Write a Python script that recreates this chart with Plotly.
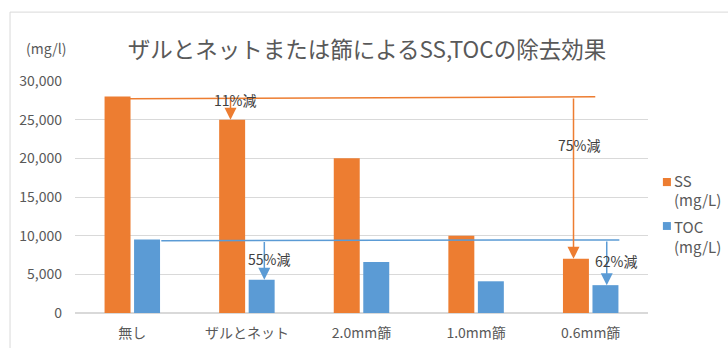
import plotly.graph_objects as go

categories = ["無し", "ザルとネット", "2.0mm篩", "1.0mm篩", "0.6mm篩"]
ss_values = [28000, 25000, 20000, 10000, 7000]
toc_values = [9500, 4300, 6600, 4100, 3600]
series_names = ["SS", "TOC"]
unit_label = "(mg/L)"
reduction_labels = ["11%減", "75%減", "55%減", "62%減"]

ORANGE = "#ED7D31"
BLUE = "#5B9BD5"
GREY = "#595959"
FONT = "Noto Sans CJK JP"

fig = go.Figure()
fig.add_trace(go.Bar(x=categories, y=ss_values, name=series_names[0] + " " + unit_label,
                     marker=dict(color=ORANGE, line=dict(width=0))))
fig.add_trace(go.Bar(x=categories, y=toc_values, name=series_names[1] + " " + unit_label,
                     marker=dict(color=BLUE, line=dict(width=0))))

# reference lines
fig.add_shape(type="line", xref="x", yref="y", x0=-0.027, y0=27700, x1=4.04, y1=27950,
              line=dict(color=ORANGE, width=1.5))
fig.add_shape(type="line", xref="x", yref="y", x0=0.253, y0=9350, x1=4.25, y1=9450,
              line=dict(color=BLUE, width=1.5))

def arrow(x, y_from, y_to, color):
    fig.add_annotation(x=x, y=y_to, ax=x, ay=y_from, xref="x", yref="y",
                       axref="x", ayref="y", text="", showarrow=True,
                       arrowhead=2, arrowsize=1.6, arrowwidth=1.5, arrowcolor=color,
                       standoff=0, startstandoff=0)

arrow(0.857, 27760, ss_values[1], ORANGE)
arrow(3.85, 27930, ss_values[4], ORANGE)
arrow(1.152, 9390, toc_values[1], BLUE)
arrow(4.14, 9440, toc_values[4], BLUE)

label_pos = [(0.894, 27540), (3.90, 21720), (1.19, 6980), (4.22, 6720)]
for t, (lx, ly) in zip(reduction_labels, label_pos):
    fig.add_annotation(x=lx, y=ly, xref="x", yref="y", text=t, showarrow=False,
                       font=dict(family=FONT, size=14, color="#404040"))

fig.add_annotation(x=-0.049, y=1.142, xref="paper", yref="paper", text="(mg/l)",
                   xanchor="center", yanchor="middle",
                   showarrow=False, font=dict(family=FONT, size=14, color=GREY))

# custom legend (symbol next to first line, unit on second line)
legend_rows = [(0.582, 0.547, 0.571, 0.491, ORANGE), (0.392, 0.358, 0.375, 0.285, BLUE)]
for name, (sy1, sy0, ty1, ty2, col) in zip(series_names, legend_rows):
    fig.add_shape(type="rect", xref="paper", yref="paper", x0=1.026, x1=1.040,
                  y0=sy0, y1=sy1, fillcolor=col, line=dict(width=0))
    fig.add_annotation(x=1.042, y=ty1, xref="paper", yref="paper", text=name,
                       xanchor="left", yanchor="middle", showarrow=False,
                       font=dict(family=FONT, size=15, color=GREY))
    fig.add_annotation(x=1.042, y=ty2, xref="paper", yref="paper", text=unit_label,
                       xanchor="left", yanchor="middle", showarrow=False,
                       font=dict(family=FONT, size=15, color=GREY))

# chart frame
fig.add_shape(type="rect", xref="paper", yref="paper", x0=-0.1134, y0=-0.3,
              x1=1.3, y1=1.297, line=dict(color="#D9D9D9", width=1), layer="below")

fig.update_layout(
    width=728, height=348,
    margin=dict(l=75, r=80, t=81, b=35, autoexpand=False),
    paper_bgcolor="white", plot_bgcolor="white",
    font=dict(family=FONT, size=14, color=GREY),
    title=dict(text="ザルとネットまたは篩によるSS,TOCの除去効果", x=0.504, xref="container",
               y=1 - 50 / 348, yref="container", xanchor="center", yanchor="middle",
               font=dict(family=FONT, size=22.5, color=GREY)),
    barmode="group", bargap=0.485, bargroupgap=0.12,
    showlegend=False,
    yaxis=dict(range=[0, 30000], dtick=5000, tickformat=",", showgrid=True,
               gridcolor="#D9D9D9", gridwidth=1, zeroline=True, zerolinecolor="#D9D9D9",
               showline=False, ticks="", ticklabelstandoff=12,
               tickfont=dict(family=FONT, size=14, color=GREY)),
    xaxis=dict(showline=False, ticks="", ticklabelstandoff=10,
               tickfont=dict(family=FONT, size=14, color=GREY)),
)

fig.write_html("out.html")
